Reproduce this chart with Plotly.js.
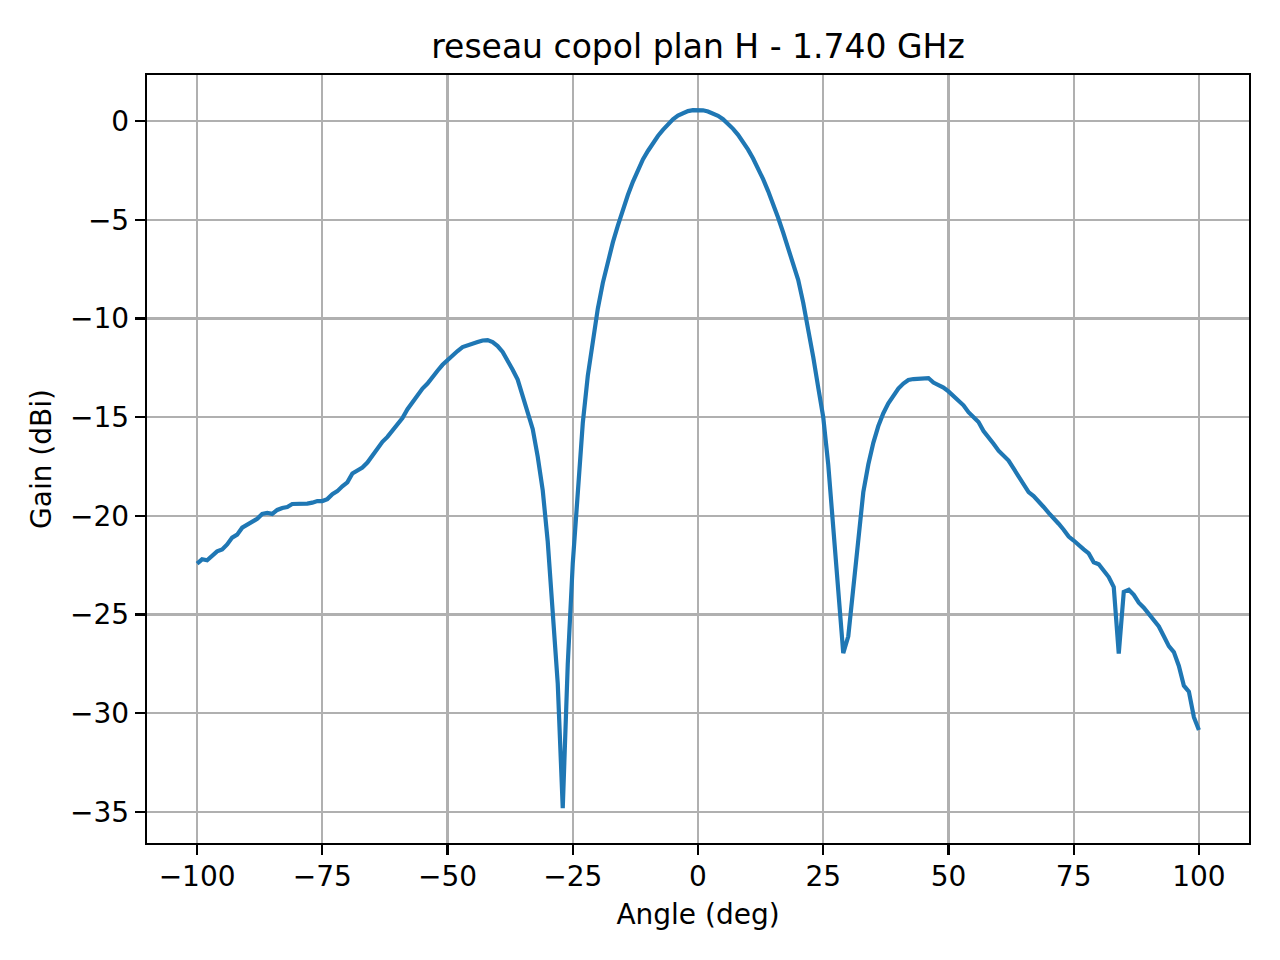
<!DOCTYPE html>
<html>
<head>
<meta charset="utf-8">
<script src="https://cdn.plot.ly/plotly-3.0.1.min.js"></script>
<style>
  html, body { margin: 0; padding: 0; background: #fff; }
  #graph { width: 1280px; height: 960px; }
</style>
</head>
<body>
<div id="graph"></div>
<script>
// angles de mesure (deg)
const angles = [
  -100, -99, -98, -97, -96, -95, -94, -93, -92, -91,
  -90, -89, -88, -87, -86, -85, -84, -83, -82, -81,
  -80, -79, -78, -77, -76, -75, -74, -73, -72, -71,
  -70, -69, -68, -67, -66, -65, -64, -63, -62, -61,
  -60, -59, -58, -57, -56, -55, -54, -53, -52, -51,
  -50, -49, -48, -47, -46, -45, -44, -43, -42, -41,
  -40, -39, -38, -37, -36, -35, -34, -33, -32, -31,
  -30, -29, -28, -27, -26, -25, -24, -23, -22, -21,
  -20, -19, -18, -17, -16, -15, -14, -13, -12, -11,
  -10, -9, -8, -7, -6, -5, -4, -3, -2, -1,
  0, 1, 2, 3, 4, 5, 6, 7, 8, 9,
  10, 11, 12, 13, 14, 15, 16, 17, 18, 19,
  20, 21, 22, 23, 24, 25, 26, 27, 28, 29,
  30, 31, 32, 33, 34, 35, 36, 37, 38, 39,
  40, 41, 42, 43, 44, 45, 46, 47, 48, 49,
  50, 51, 52, 53, 54, 55, 56, 57, 58, 59,
  60, 61, 62, 63, 64, 65, 66, 67, 68, 69,
  70, 71, 72, 73, 74, 75, 76, 77, 78, 79,
  80, 81, 82, 83, 84, 85, 86, 87, 88, 89,
  90, 91, 92, 93, 94, 95, 96, 97, 98, 99,
  100
]

// gain copolaire plan H (dBi)
const gain = [
  -22.42, -22.2, -22.25, -22.0, -21.8, -21.7, -21.45, -21.1, -20.95, -20.6,
  -20.45, -20.3, -20.15, -19.9, -19.85, -19.9, -19.7, -19.6, -19.55, -19.4,
  -19.4, -19.4, -19.38, -19.33, -19.25, -19.25, -19.15, -18.9, -18.75, -18.5,
  -18.3, -17.85, -17.7, -17.55, -17.3, -16.95, -16.6, -16.25, -16.0, -15.7,
  -15.4, -15.05, -14.6, -14.25, -13.9, -13.55, -13.3, -12.95, -12.65, -12.35,
  -12.1, -11.9, -11.65, -11.45, -11.35, -11.25, -11.2, -11.12, -11.1, -11.2,
  -11.4, -11.7, -12.1, -12.6, -13.1, -13.9, -14.7, -15.6, -17.0, -18.7,
  -21.3, -24.9, -28.5, -34.8, -27.5, -22.4, -18.5, -15.3, -12.9, -11.1,
  -9.5, -8.2, -7.1, -6.15, -5.3, -4.5, -3.75, -3.08, -2.48, -1.95,
  -1.52, -1.12, -0.76, -0.45, -0.17, 0.08, 0.27, 0.41, 0.5, 0.55,
  0.56, 0.54, 0.48, 0.39, 0.26, 0.09, -0.13, -0.4, -0.7, -1.05,
  -1.45, -1.9, -2.4, -2.95, -3.55, -4.2, -4.9, -5.65, -6.45, -7.25,
  -8.05, -9.2, -10.5, -11.95, -13.5, -15.0, -17.4, -20.8, -24.1, -26.95,
  -26.1, -23.5, -21.0, -18.8, -17.4, -16.3, -15.45, -14.8, -14.3, -13.9,
  -13.55, -13.3, -13.12, -13.07, -13.05, -13.05, -13.02, -13.25, -13.35, -13.5,
  -13.7, -13.95, -14.15, -14.4, -14.75, -15.0, -15.25, -15.7, -16.0, -16.35,
  -16.7, -16.95, -17.2, -17.6, -18.0, -18.4, -18.8, -19.0, -19.25, -19.55,
  -19.85, -20.1, -20.4, -20.7, -21.05, -21.25, -21.5, -21.7, -21.9, -22.35,
  -22.45, -22.75, -23.1, -23.6, -26.98, -23.85, -23.74, -24.0, -24.4, -24.65,
  -24.95, -25.3, -25.6, -26.1, -26.6, -26.9, -27.6, -28.6, -28.9, -30.2,
  -30.85
]

// marges automatiques facon matplotlib (5 %)
function padRange(v) {
  const lo = Math.min(...v), hi = Math.max(...v)
  const m = (hi - lo) * 0.05
  return [lo - m, hi + m]
}

const font = { family: "DejaVu Sans, sans-serif", size: 28, color: "#000" }

const trace = {
  x: angles,
  y: gain,
  type: "scatter",
  mode: "lines",
  line: { color: "#1f77b4", width: 4.2 },
  hoverinfo: "x+y"
}

const axisCommon = {
  showgrid: true,
  gridcolor: "#b0b0b0",
  gridwidth: 2.2,
  zeroline: false,
  showline: true,
  mirror: true,
  linecolor: "#000",
  linewidth: 2.2,
  ticks: "outside",
  ticklen: 10,
  tickwidth: 2.2,
  tickcolor: "#000",
  tickfont: font
}

const layout = {
  width: 1280,
  height: 960,
  margin: { l: 147, r: 31, t: 75, b: 117 },
  paper_bgcolor: "#fff",
  plot_bgcolor: "#fff",
  font: font,
  showlegend: false,
  title: {
    text: "reseau copol plan H - 1.740 GHz",
    font: { family: "DejaVu Sans, sans-serif", size: 33, color: "#000" },
    x: 0.5,
    xref: "paper",
    xanchor: "center",
    y: 1 - 46 / 960,
    yanchor: "middle"
  },
  xaxis: Object.assign({}, axisCommon, {
    range: padRange(angles),
    tickmode: "linear",
    tick0: 0,
    dtick: 25,
    ticklabelstandoff: -3,
    title: { text: "Angle (deg)", font: font, standoff: 13 }
  }),
  yaxis: Object.assign({}, axisCommon, {
    range: padRange(gain),
    tickmode: "linear",
    tick0: 0,
    dtick: 5,
    title: { text: "Gain (dBi)", font: font, standoff: 10 }
  })
}

Plotly.newPlot("graph", [trace], layout, { staticPlot: true, displayModeBar: false })
</script>
</body>
</html>
